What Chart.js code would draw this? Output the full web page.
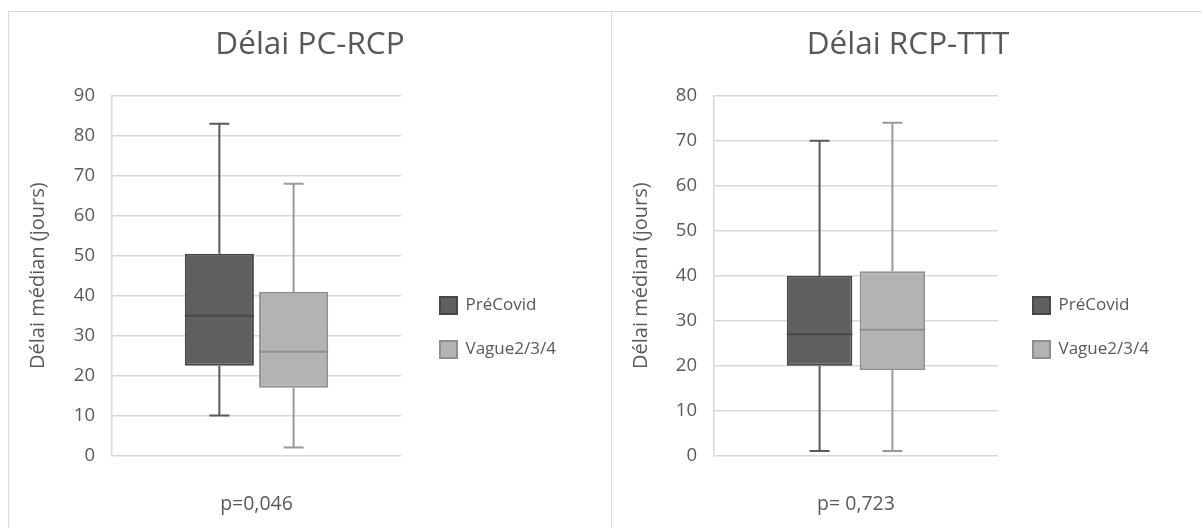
<!DOCTYPE html>
<html>
<head>
<meta charset="utf-8">
<script src="https://cdn.jsdelivr.net/npm/chart.js@4.4.1/dist/chart.umd.min.js"></script>
<style>
  html, body { margin: 0; padding: 0; background: #ffffff; width: 1202px; height: 528px; overflow: hidden; }
  #frame { position: absolute; left: 8px; top: 11px; width: 1220px; height: 540px; border: 1px solid #d9d9d9; box-sizing: border-box; }
  #divider { position: absolute; left: 611px; top: 11px; width: 1px; height: 540px; background: #d9d9d9; }
  #c1 { position: absolute; left: 9px; top: 12px; }
  #c2 { position: absolute; left: 612px; top: 12px; }
</style>
</head>
<body>
<div id="frame"></div>
<div id="divider"></div>
<canvas id="c1" width="602" height="516"></canvas>
<canvas id="c2" width="590" height="516"></canvas>
<script>
// ---- data ----
const categories = ['PréCovid', 'Vague2/3/4'];

const pcRcpMin    = [10, 2];
const pcRcpQ1     = [22.5, 17];
const pcRcpMedian = [35, 26];
const pcRcpQ3     = [50.5, 41];
const pcRcpMax    = [83, 68];

const rcpTttMin    = [1, 1];
const rcpTttQ1     = [20, 19];
const rcpTttMedian = [27, 28];
const rcpTttQ3     = [40, 41];
const rcpTttMax    = [70, 74];

const pcRcpAxisMax = 90;
const rcpTttAxisMax = 80;
const tickStep = 10;

const titles = ['Délai PC-RCP', 'Délai RCP-TTT'];
const pValues = ['p=0,046', 'p= 0,723'];
const yTitle = 'Délai médian (jours)';

// ---- styles ----
const TXT = '#595959';
const GRID = '#d9d9d9';
const fills = ['#5f5f5f', '#b3b3b3'];
const borders = ['#474747', '#8f8f8f'];
const whiskerCols = ['#5a5a5a', '#999999'];
const FONT = "'Open Sans', sans-serif";

Chart.defaults.font.family = FONT;
Chart.defaults.color = TXT;

const boxPlugin = {
  id: 'boxWhiskers',
  beforeDatasetsDraw(chart) {
    const ctx = chart.ctx;
    const y = chart.scales.y;
    chart.data.datasets.forEach((ds, i) => {
      const meta = chart.getDatasetMeta(i);
      meta.data.forEach((bar, j) => {
        const x = bar.x;
        const s = ds.stats[j];
        ctx.save();
        ctx.strokeStyle = ds.whiskerColor;
        ctx.lineWidth = 2;
        ctx.beginPath();
        ctx.moveTo(x, y.getPixelForValue(s.q3));
        ctx.lineTo(x, y.getPixelForValue(s.max));
        ctx.moveTo(x - 10, y.getPixelForValue(s.max));
        ctx.lineTo(x + 10, y.getPixelForValue(s.max));
        ctx.moveTo(x, y.getPixelForValue(s.q1));
        ctx.lineTo(x, y.getPixelForValue(s.min));
        ctx.moveTo(x - 10, y.getPixelForValue(s.min));
        ctx.lineTo(x + 10, y.getPixelForValue(s.min));
        ctx.stroke();
        ctx.restore();
      });
    });
  },
  afterDatasetsDraw(chart) {
    const ctx = chart.ctx;
    const y = chart.scales.y;
    chart.data.datasets.forEach((ds, i) => {
      const meta = chart.getDatasetMeta(i);
      meta.data.forEach((bar, j) => {
        const s = ds.stats[j];
        const yy = y.getPixelForValue(s.median);
        ctx.save();
        ctx.strokeStyle = ds.borderColor;
        ctx.lineWidth = 2;
        ctx.beginPath();
        ctx.moveTo(bar.x - bar.width / 2, yy);
        ctx.lineTo(bar.x + bar.width / 2, yy);
        ctx.stroke();
        ctx.restore();
      });
    });
  }
};

const place = {
  id: 'place',
  afterLayout(chart, args, opts) {
    const lg = chart.legend;
    if (lg) {
      lg.left = opts.legendLeft; lg.right = opts.legendLeft + 190;
      lg.top = opts.legendTop; lg.bottom = opts.legendTop + 200;
    }
    const t = chart.titleBlock;
    if (t) {
      t.left = 0; t.right = 2 * opts.titleCenter; t.width = t.right;
    }
  }
};

function build(canvasId, title, pText, mins, q1s, meds, q3s, maxs, axisMax, cfg) {
  const datasets = categories.map((name, i) => ({
    label: name,
    data: [[q1s[i], q3s[i]]],
    stats: [{ min: mins[i], q1: q1s[i], median: meds[i], q3: q3s[i], max: maxs[i] }],
    backgroundColor: fills[i],
    borderColor: borders[i],
    whiskerColor: whiskerCols[i],
    borderWidth: 2,
    borderSkipped: false,
    categoryPercentage: cfg.catPct,
    barPercentage: cfg.barPct
  }));
  return new Chart(document.getElementById(canvasId), {
    type: 'bar',
    data: { labels: [''], datasets },
    options: {
      responsive: false,
      animation: false,
      layout: { padding: { left: 0, right: cfg.padRight, top: 0, bottom: 0 } },
      plugins: {
        title: {
          display: true, text: title, color: TXT,
          font: { size: 31.5, weight: 'normal', family: FONT },
          padding: { top: 14, bottom: 32 }
        },
        legend: {
          display: true, position: 'chartArea', align: 'start',
          labels: { boxWidth: 17, boxHeight: 17, padding: 27, color: TXT, font: { size: 17, family: FONT } }
        },
        place: { legendLeft: cfg.legendLeft, legendTop: 258, titleCenter: cfg.titleCenter },
        tooltip: { enabled: false }
      },
      scales: {
        x: {
          type: 'category',
          grid: { display: false, drawTicks: false },
          border: { display: false },
          ticks: { display: false },
          title: { display: true, text: pText, color: TXT, font: { size: 19.5, family: FONT }, padding: { top: 37, bottom: 12 } }
        },
        y: {
          min: 0, max: axisMax,
          ticks: { stepSize: tickStep, color: TXT, font: { size: 18.5, family: FONT }, padding: 17 },
          grid: { color: GRID, lineWidth: 1.5, drawTicks: false },
          border: { display: true, color: GRID, width: 1.5 },
          title: { display: true, text: yTitle, color: TXT, font: { size: 20, family: FONT }, padding: { top: 17, bottom: 0 } },
          afterFit(scale) { scale.width = cfg.yWidth; }
        }
      }
    },
    plugins: [boxPlugin, place]
  });
}

build('c1', titles[0], pValues[0], pcRcpMin, pcRcpQ1, pcRcpMedian, pcRcpQ3, pcRcpMax, pcRcpAxisMax,
  { catPct: 0.514, barPct: 0.93, padRight: 210, yWidth: 103, legendLeft: 404, titleCenter: 301 });
build('c2', titles[1], pValues[1], rcpTttMin, rcpTttQ1, rcpTttMedian, rcpTttQ3, rcpTttMax, rcpTttAxisMax,
  { catPct: 0.513, barPct: 0.9, padRight: 204, yWidth: 102, legendLeft: 394, titleCenter: 296 });
</script>
</body>
</html>
